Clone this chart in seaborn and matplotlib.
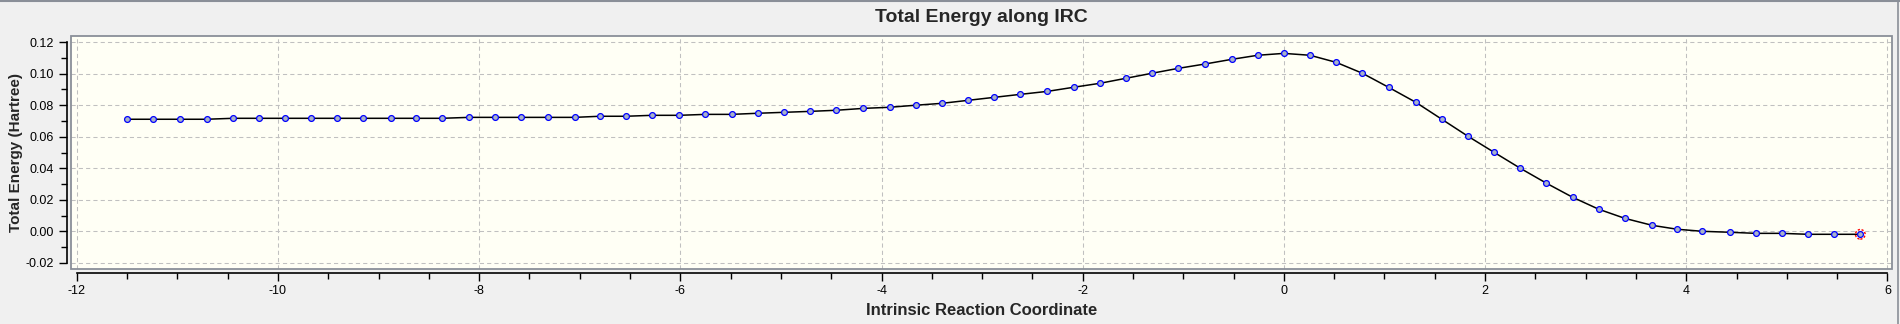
import matplotlib
matplotlib.use("Agg")
import matplotlib.pyplot as plt
import seaborn as sns
import pandas as pd
from matplotlib.ticker import MultipleLocator, FormatStrFormatter
from matplotlib.patches import Rectangle
from matplotlib.lines import Line2D

# ---- data ----
irc_coordinate = [
    -11.50, -11.24, -10.97, -10.71, -10.45, -10.19, -9.93, -9.67, -9.41, -9.15,
    -8.88, -8.63, -8.37, -8.10, -7.84, -7.58, -7.32, -7.05, -6.80, -6.54,
    -6.28, -6.01, -5.75, -5.49, -5.23, -4.97, -4.71, -4.45, -4.18, -3.92,
    -3.66, -3.40, -3.14, -2.88, -2.62, -2.35, -2.09, -1.83, -1.57, -1.31,
    -1.05, -0.78, -0.52, -0.26, 0.00, 0.26, 0.52, 0.78, 1.04, 1.31,
    1.57, 1.83, 2.09, 2.35, 2.61, 2.87, 3.13, 3.39, 3.66, 3.91,
    4.16, 4.43, 4.69, 4.95, 5.21, 5.47, 5.73,
]
total_energy = [
    0.0711, 0.0711, 0.0711, 0.0711, 0.0717, 0.0717, 0.0717, 0.0717, 0.0717, 0.0717,
    0.0717, 0.0717, 0.0717, 0.0723, 0.0723, 0.0723, 0.0723, 0.0723, 0.0730, 0.0730,
    0.0736, 0.0736, 0.0742, 0.0742, 0.0749, 0.0755, 0.0761, 0.0768, 0.0780, 0.0787,
    0.0800, 0.0812, 0.0831, 0.0850, 0.0869, 0.0888, 0.0914, 0.0939, 0.0971, 0.1003,
    0.1034, 0.1062, 0.1091, 0.1117, 0.1129, 0.1117, 0.1072, 0.1003, 0.0914, 0.0819,
    0.0711, 0.0603, 0.0501, 0.0400, 0.0305, 0.0216, 0.0140, 0.0082, 0.0038, 0.0013,
    0.0000, -0.0006, -0.0013, -0.0013, -0.0019, -0.0019, -0.0019,
]
title = "Total Energy along IRC"
x_label = "Intrinsic Reaction Coordinate"
y_label = "Total Energy (Hartree)"
x_ticks = [-12, -10, -8, -6, -4, -2, 0, 2, 4, 6]
y_ticks = [-0.02, 0.00, 0.02, 0.04, 0.06, 0.08, 0.10, 0.12]

# ---- styling ----
sns.set_theme(style="ticks")
plt.rcParams["font.family"] = ["Liberation Sans", "DejaVu Sans"]
plt.rcParams["axes.unicode_minus"] = False

fig = plt.figure(figsize=(19, 3.24), dpi=100, facecolor="#f0f0f0")
ax = fig.add_axes([0.03737, 0.16975, 0.95842, 0.7191])
ax.set_facecolor("#fffff5")

df = pd.DataFrame({"irc": irc_coordinate, "energy": total_energy})
sns.lineplot(data=df, x="irc", y="energy", ax=ax, color="black", linewidth=1.1,
             marker="o", markersize=4.2, markerfacecolor="#a8b2c8",
             markeredgecolor="#0000ff", markeredgewidth=0.9, sort=False, zorder=3)
# highlighted current point
sns.scatterplot(x=irc_coordinate[-1:], y=total_energy[-1:], ax=ax, s=48,
                facecolor="none", edgecolor="#ff0000", linewidth=1.0,
                linestyle=(0, (1.6, 1.2)), zorder=4)

ax.set_xlim(-12.057, 6.045)
ax.set_ylim(-0.02392, 0.12392)
ax.set_xticks(x_ticks)
ax.set_yticks(y_ticks)
ax.xaxis.set_minor_locator(MultipleLocator(0.5))
ax.yaxis.set_minor_locator(MultipleLocator(0.01))
ax.yaxis.set_major_formatter(FormatStrFormatter("%.2f"))
ax.xaxis.set_major_formatter(FormatStrFormatter("%d"))

ax.grid(True, which="major", color="#c0c0c0", linestyle=(0, (4, 3)), linewidth=0.75)
ax.set_axisbelow(True)

for side in ["top", "right"]:
    ax.spines[side].set_visible(False)
for side in ["left", "bottom"]:
    ax.spines[side].set_position(("outward", 3))
    ax.spines[side].set_color("black")
    ax.spines[side].set_linewidth(1.2)
ax.spines["left"].set_bounds(-0.02, 0.12)
ax.spines["bottom"].set_bounds(-12, 6)

ax.tick_params(axis="both", which="major", length=6, width=1.0, color="black",
               labelsize=9, labelcolor="black", direction="out")
ax.tick_params(axis="both", which="minor", length=4, width=1.0, color="black",
               direction="out")
ax.tick_params(axis="x", which="major", pad=2.3)
ax.tick_params(axis="y", which="major", pad=3.2)

# plot-area frame
ax.add_patch(Rectangle((0, 0), 1, 1, transform=ax.transAxes, fill=False,
                       edgecolor="#8a8f98", linewidth=1.3, clip_on=False, zorder=5))

ax.set_xlabel(x_label, fontsize=12, fontweight="bold")
ax.set_ylabel(y_label, fontsize=11, fontweight="bold")
ax.xaxis.label.set_va("center")
ax.yaxis.label.set_va("center")
ax.xaxis.set_label_coords(0.5, -0.176)
ax.yaxis.set_label_coords(-0.0304, 0.5)

fig.text(0.5166, 1 - 18 / 324, title, ha="center", va="center",
         fontsize=14, fontweight="bold")

# window border lines
fig.add_artist(Line2D([0, 1], [0.998, 0.998], color="#8a8f98", linewidth=1.5,
                      transform=fig.transFigure))
fig.add_artist(Line2D([0.9988, 0.9988], [0, 1], color="#8a8f98", linewidth=1.2,
                      transform=fig.transFigure))

fig.savefig("out.png", dpi=100, facecolor=fig.get_facecolor())
